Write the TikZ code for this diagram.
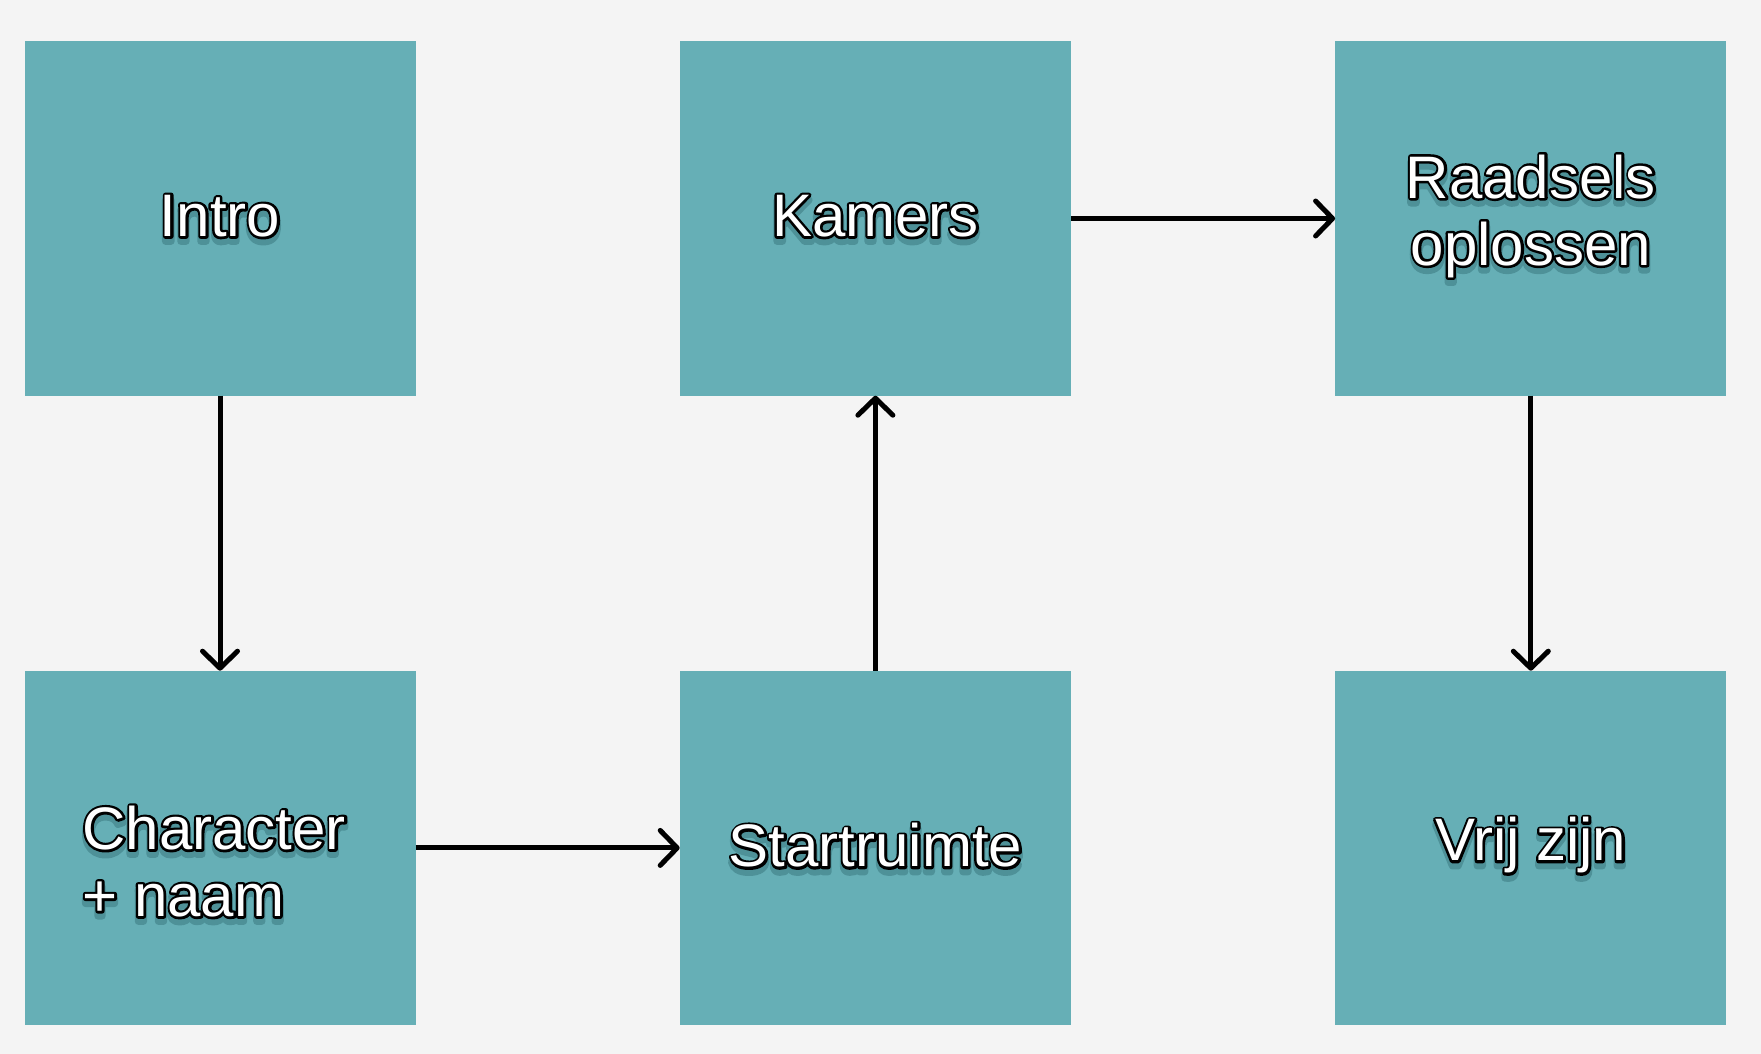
\documentclass[tikz,border=0pt]{standalone}
\usepackage{fontspec}
\setmainfont{Liberation Sans}
\usetikzlibrary{arrows.meta,positioning}

\definecolor{bgpaper}{HTML}{F4F4F4}
\definecolor{boxteal}{HTML}{66AFB6}
\definecolor{shadowteal}{HTML}{4E9198}

% outlined white text with a soft shadow below it
\newcommand{\glow}[1]{%
  \makebox[0pt][l]{\raisebox{-5pt}{\color{shadowteal}\special{pdf:literal direct 2 Tr 7 w 1 j}#1\special{pdf:literal direct 0 Tr}}}%
  \makebox[0pt][l]{\color{black}\special{pdf:literal direct 2 Tr 5 w 1 j}#1\special{pdf:literal direct 0 Tr}}%
  {\color{white}#1}}

\begin{document}
\begin{tikzpicture}[x=1pt,y=-1pt]
        \tikzstyle{every node}=[node distance=264pt]
        \tikzstyle{stepbox}=[fill=boxteal,minimum width=391pt,minimum height=354pt,inner sep=0pt,
                font=\fontsize{60}{67}\selectfont,align=center]
        \tikzstyle{flow}=[line width=5pt,-{Straight Barb[length=17pt,width=35pt,line cap=round,line join=round]}]

        \fill[bgpaper] (0,0) rectangle (1761,1054);
        \useasboundingbox (0,0) rectangle (1761,1054);

        % top row
        \node[stepbox] (intro) at (220,218.5) {\glow{Intro}};
        \node[stepbox, right=of intro] (kamers) {\glow{Kamers}};
        \node[stepbox, right=of kamers] (raadsels) {\glow{Raadsels}\\\glow{oplossen}};

        % bottom row
        \node[stepbox, below=275pt of intro] (character) {};
        \node[font=\fontsize{60}{67}\selectfont, align=left, anchor=west, inner sep=0pt]
                (charactertext) at ([xshift=58pt,yshift=-16pt]character.west) {\glow{Character}\\\glow{+ naam}};
        \node[stepbox, below=275pt of kamers] (start) {\glow{Startruimte}};
        \node[stepbox, below=275pt of raadsels] (vrij) {\glow{Vrij zijn}};

        % connectors
        \draw[flow] (intro) -- (character);
        \draw[flow] (character) -- (start);
        \draw[flow] (start) -- (kamers);
        \draw[flow] (kamers) -- (raadsels);
        \draw[flow] (raadsels) -- (vrij);

\end{tikzpicture}
\end{document}
